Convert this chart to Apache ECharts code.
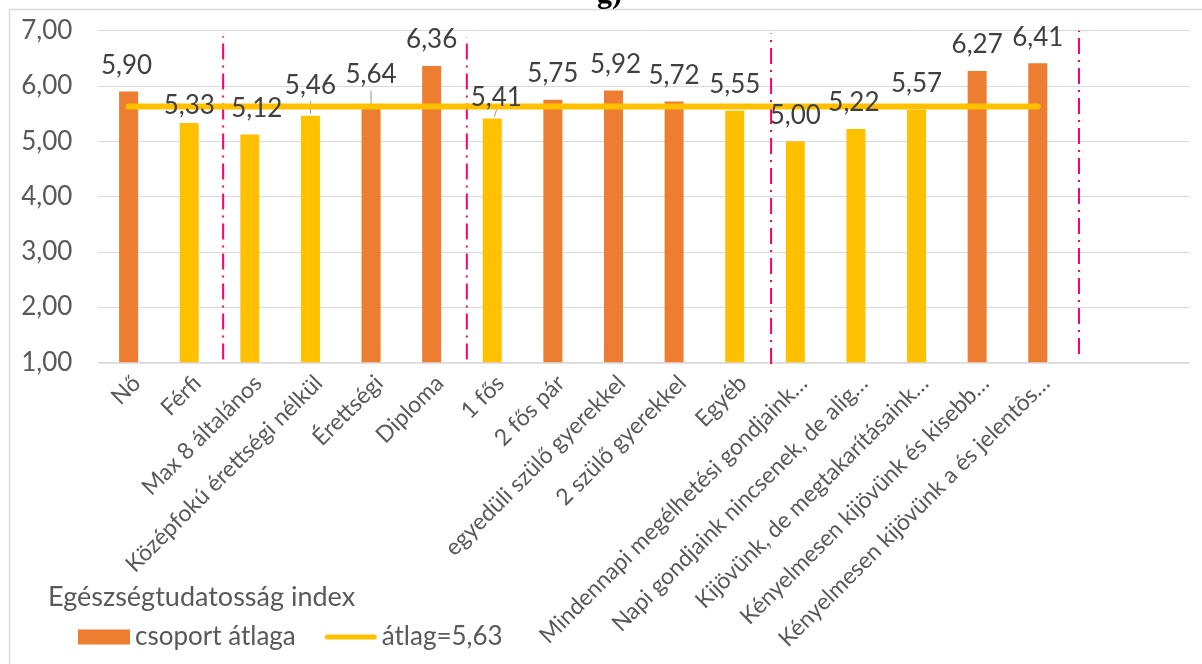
<!DOCTYPE html>
<html><head><meta charset="utf-8">
<script src="https://cdn.jsdelivr.net/npm/echarts@6/dist/echarts.min.js"></script>
<style>html,body{margin:0;padding:0;background:#fff}#c{width:1202px;height:664px}</style>
</head><body><div id="c"></div>
<script>
// ---- data ----
const categories = ['Nő','Férfi','Max 8 általános','Középfokú érettségi nélkül','Érettségi','Diploma','1 fős','2 fős pár','egyedüli szülő gyerekkel','2 szülő gyerekkel','Egyéb','Mindennapi megélhetési gondjaink…','Napi gondjaink nincsenek, de alig…','Kijövünk, de megtakarításaink…','Kényelmesen kijövünk és kisebb…','Kényelmesen kijövünk a és jelentôs…','',''];
const groupMeans = [5.90,5.33,5.12,5.46,5.64,6.36,5.41,5.75,5.92,5.72,5.55,5.00,5.22,5.57,6.27,6.41];
const overallMean = 5.63;
const yTicks = [1,2,3,4,5,6,7];
const barSeriesName = 'csoport átlaga';
const meanSeriesName = 'átlag=5,63';
const indexTitle = 'Egészségtudatosság index';
// group separators (category units along the axis)
const groupBreaks = [2.06, 6.08, 11.1, 16.18];
const breakTops = [6.9, 6.88, 6.95, 7.0];
const breakBottoms = [1.05, 1.05, 0.97, 1.15];

// ---- styles ----
const ORANGE = '#ED7D31', YELLOW = '#FFC000', TXT = '#595959', FONT = 'Lato';
const labelShift = [[-2,0],[0,9],[7,0],[0,-4],[0,-5],[0,0],[4,5],[0,0],[2,0],[0,0],[0,0],[0,0],[-2,0],[0,0],[0,0],[0,0]];
const leaders = [{i:3, dx0:0, dx1:0, len:13},{i:4, dx0:0, dx1:0, len:13},{i:6, dx0:2, dx1:6, len:12}];

const fmt = v => Number(v).toFixed(2).replace('.', ',');
const chart = echarts.init(document.getElementById('c'), null, {renderer:'canvas'});

const breakSeries = groupBreaks.map((x, k) => ({
  type:'line', xAxisIndex:1, yAxisIndex:0, clip:false, silent:true, symbol:'none', z:3,
  data:[[x, breakBottoms[k]], [x, breakTops[k]]],
  lineStyle:{color:'#FF0066', width:2, type:[16,6,2,6]}
}));

chart.setOption({
  animation:false,
  backgroundColor:'#fff',
  textStyle:{fontFamily:FONT},
  grid:{left:98.3, right:12.7, top:30.7, bottom:301.7, containLabel:false, outerBoundsMode:'none'},
  xAxis:[{
    type:'category', data:categories,
    axisTick:{show:false},
    axisLine:{lineStyle:{color:'#d9d9d9', width:1.5}},
    axisLabel:{interval:0, rotate:45, fontSize:23, color:TXT, fontFamily:FONT, margin:9, verticalAlign:'top', align:'right'}
  },{
    type:'value', min:0, max:categories.length, show:false
  }],
  yAxis:{
    type:'value', min:yTicks[0], max:yTicks[yTicks.length-1], interval:1,
    axisLine:{show:false}, axisTick:{show:false},
    splitLine:{lineStyle:{color:'#d9d9d9', width:1}},
    axisLabel:{formatter:fmt, fontSize:26, color:TXT, fontFamily:FONT, margin:26}
  },
  legend:{
    left:78, top:624, padding:0, itemWidth:52, itemHeight:15, itemGap:29, symbolKeepAspect:true,
    textStyle:{fontSize:26, color:TXT, fontFamily:FONT},
    data:[
      {name:barSeriesName, icon:'rect', itemStyle:{color:ORANGE}},
      {name:meanSeriesName, icon:'path://M2.5,0 H49.5 A2.5,2.5 0 0 1 49.5,5 H2.5 A2.5,2.5 0 0 1 2.5,0 Z', itemStyle:{color:YELLOW}}
    ]
  },
  graphic:[
    {type:'rect', shape:{x:9.5, y:9.5, width:1200, height:700}, style:{fill:'none', stroke:'#d9d9d9', lineWidth:1.5}, z:0},
    {type:'text', left:48, top:584, style:{text:indexTitle, fontSize:27, fill:TXT, fontFamily:FONT}},
    {type:'text', x:597, y:-20, style:{text:'g)', fontSize:30, fontWeight:'bold', fill:'#000', fontFamily:'Liberation Serif'}}
  ],
  series:[
    {
      name:barSeriesName, type:'bar', data:groupMeans, barWidth:19, z:2,
      itemStyle:{color:p => groupMeans[p.dataIndex] > overallMean ? ORANGE : YELLOW}
    },
    ...breakSeries,
    {
      type:'custom', z:3, silent:true,
      data:leaders.map(l => [l.i, groupMeans[l.i]]),
      renderItem:(params, api) => {
        const l = leaders[params.dataIndex];
        const p = api.coord([api.value(0), api.value(1)]);
        return {type:'line', shape:{x1:p[0]+l.dx0, y1:p[1]-2, x2:p[0]+l.dx1, y2:p[1]-2-l.len}, style:{stroke:'#a6a6a6', lineWidth:1.2}};
      }
    },
    {
      name:meanSeriesName, type:'line', data:groupMeans.map(() => overallMean), symbol:'none', z:4,
      lineStyle:{color:YELLOW, width:6, cap:'round'}, itemStyle:{color:YELLOW}
    },
    {
      type:'bar', data:groupMeans.map((v, i) => ({value:v, label:{offset:labelShift[i]}})),
      barWidth:19, barGap:'-100%', z:5, silent:true,
      itemStyle:{color:'rgba(0,0,0,0)'},
      label:{show:true, position:'top', distance:13, formatter:p => fmt(p.value), fontSize:26, color:'#404040', fontFamily:FONT}
    }
  ]
});
</script></body></html>
